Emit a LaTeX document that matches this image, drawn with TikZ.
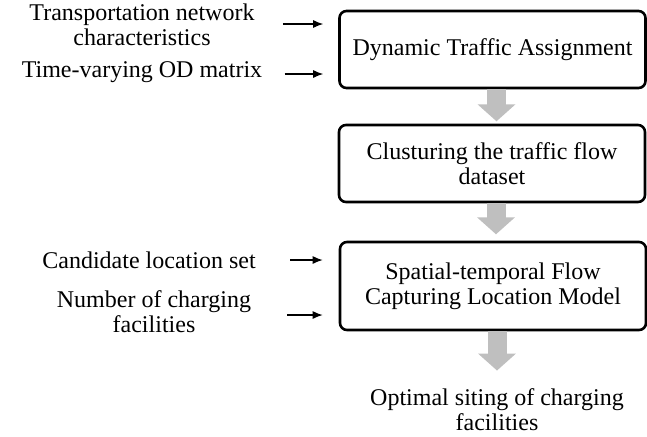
\documentclass[tikz,border=0pt]{standalone}
\usepackage{fontspec}
\setmainfont{Liberation Serif}
\usetikzlibrary{arrows.meta}

\begin{document}
\begin{tikzpicture}[x=0.5pt,y=-0.5pt,
  box/.style={draw,rounded corners=3.5pt,line width=1.3pt,minimum width=153pt,align=center,font=\fontsize{12}{12.5}\selectfont},
  lbl/.style={align=center,inner sep=0pt,font=\fontsize{12}{12.5}\selectfont},
  inarrow/.style={-{Latex[length=5pt,width=4pt]},line width=0.6pt},
  flow/.style={line width=9.5pt,draw=black!25,-{Triangle[length=8.5pt,width=18.5pt]}}]
\useasboundingbox (0,0) rectangle (647,436);
% process boxes
\node[box,minimum height=38.5pt] (dta) at (492.5,49.5) {Dynamic Traffic Assignment};
\node[box,minimum height=38.5pt] (clu) at (492,163.5) {Clusturing the traffic flow\\dataset};
\node[box,minimum height=44pt] (fclm) at (493,286) {Spatial-temporal Flow\\Capturing Location Model};
\node[lbl] (opt) at (497,410) {Optimal siting of charging\\facilities};
% inputs
\node[lbl] (net) at (142,25) {Transportation network\\characteristics};
\node[lbl] (od) at (142,72) {Time-varying OD matrix};
\node[lbl] (cand) at (149,260) {Candidate location set};
\node[lbl] (num) at (154,312) {Number of charging\\facilities};
\draw[inarrow] ([xshift=14pt,yshift=0.5pt]net.east) -- ([xshift=-7.5pt,yshift=0.5pt]net.east -| dta.west);
\draw[inarrow] ([xshift=11pt,yshift=-1pt]od.east) -- ([xshift=-7.5pt,yshift=-1pt]od.east -| dta.west);
\draw[inarrow] ([xshift=17pt]cand.east) -- ([xshift=-8pt]cand.east -| fclm.west);
\draw[inarrow] ([xshift=18pt,yshift=-1.5pt]num.east) -- ([xshift=-8pt,yshift=-1.5pt]num.east -| fclm.west);
% flow between steps
\draw[flow,shorten >=1.2pt] ([xshift=2pt]dta.south) -- ([xshift=2pt]dta.south |- clu.north);
\draw[flow,shorten >=3.2pt] ([xshift=2pt]clu.south) -- ([xshift=2pt]clu.south |- fclm.north);
\draw[flow,shorten >=9pt] ([xshift=2pt]fclm.south) -- ([xshift=2pt]fclm.south |- opt.north);
\end{tikzpicture}
\end{document}
